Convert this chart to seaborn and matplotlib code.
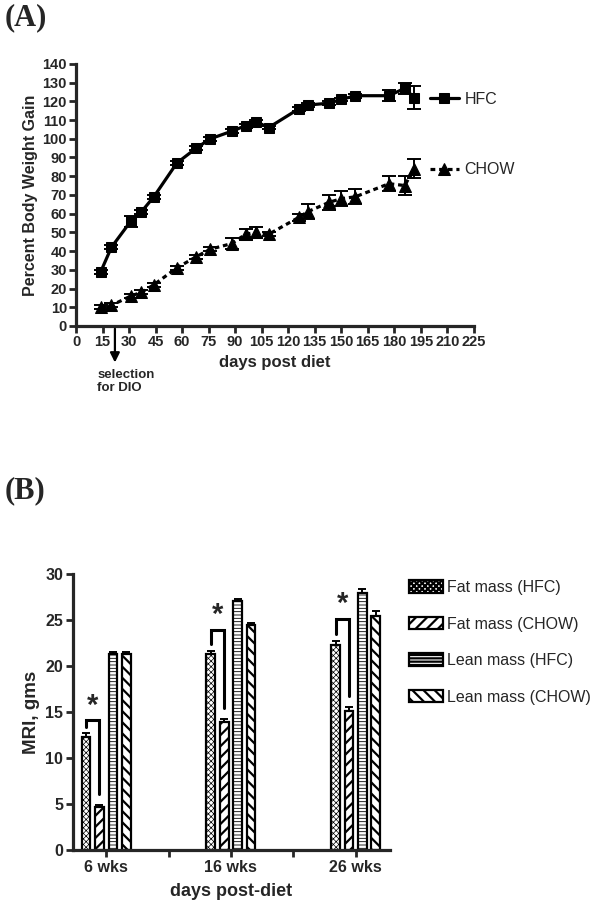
import numpy as np
import pandas as pd
import matplotlib
matplotlib.use('Agg')
import matplotlib.pyplot as plt
import seaborn as sns

sns.set_style('ticks')
plt.rcParams['font.family'] = ['Liberation Sans', 'DejaVu Sans']
plt.rcParams['hatch.linewidth'] = 1.6

# (A) percent body weight gain
days = [14, 20, 31, 37, 44, 57, 68, 76, 88, 96, 102, 109, 126, 131, 143, 150, 158, 177, 186, 191]
hfc = [29, 42, 56, 61, 69, 87, 95, 100, 104, 107, 109, 106, 116, 118, 119, 121, 123, 123, 127, 122]
hfc_err = [1, 1, 3, 1, 1, 1, 1, 1, 1, 1, 1, 1, 1, 1, 1, 1, 1, 3, 3, 6]
chow = [10, 11, 16, 18, 22, 31, 37, 41, 44, 49, 50, 49, 58, 61, 66, 68, 69, 76, 75, 84]
chow_err = [1, 1, 1, 1, 1, 1, 1, 1, 3, 3, 3, 1, 2, 4, 4, 4, 4, 4, 5, 5]
selection_day = 22

# (B) MRI body composition
weeks = ['6 wks', '16 wks', '26 wks']
groups = ['Fat mass (HFC)', 'Fat mass (CHOW)', 'Lean mass (HFC)', 'Lean mass (CHOW)']
fat_hfc = [12.3, 21.3, 22.3]
fat_chow = [4.7, 13.9, 15.1]
lean_hfc = [21.3, 27.1, 28.0]
lean_chow = [21.3, 24.5, 25.5]
fat_hfc_err = [0.4, 0.4, 0.45]
fat_chow_err = [0.2, 0.4, 0.5]
lean_hfc_err = [0.2, 0.2, 0.4]
lean_chow_err = [0.2, 0.2, 0.5]
bracket_top = [14.1, 23.9, 25.1]

fig = plt.figure(figsize=(6, 9.1), dpi=100)

# ---------- panel A ----------
axA = fig.add_axes([0.1267, 0.6418, 0.663, 0.288])
dfA = pd.DataFrame({'day': days * 2, 'gain': hfc + chow,
                    'diet': ['HFC'] * len(days) + ['CHOW'] * len(days)})

sns.lineplot(data=dfA[dfA.diet == 'HFC'], x='day', y='gain', color='black',
             marker='s', markersize=7.5, linewidth=2.3, ax=axA)
line_hfc = axA.lines[-1]
sns.lineplot(data=dfA[dfA.diet == 'CHOW'], x='day', y='gain', color='black',
             marker='^', markersize=9, linewidth=2.3, ax=axA)
line_chow = axA.lines[-1]
line_chow.set_dashes((1.5, 1.2))
for ln in (line_hfc, line_chow):
    ln.set_markeredgecolor('black')

axA.errorbar(days, hfc, yerr=hfc_err, fmt='none', ecolor='black', elinewidth=1.4, capsize=5, capthick=1.4)
axA.errorbar(days, chow, yerr=chow_err, fmt='none', ecolor='black', elinewidth=1.4, capsize=5, capthick=1.4)

axA.set_xlim(0, 225)
axA.set_ylim(0, 140)
axA.set_xticks(np.arange(0, 226, 15))
axA.set_yticks(np.arange(0, 141, 10))
axA.set_xlabel('days post diet', fontsize=12, fontweight='bold', labelpad=4)
axA.set_ylabel('Percent Body Weight Gain', fontsize=11.5, fontweight='bold', labelpad=3)
axA.tick_params(labelsize=10.5, width=2, length=5, pad=1.5)
for lab in axA.get_xticklabels() + axA.get_yticklabels():
    lab.set_fontweight('bold')
sns.despine(ax=axA)
for s in ('left', 'bottom'):
    axA.spines[s].set_linewidth(2.3)

axA.annotate('', xy=(selection_day, -21), xytext=(selection_day, 0), xycoords='data',
             arrowprops=dict(arrowstyle='-|>', color='black', lw=1.6, mutation_scale=14),
             annotation_clip=False)
axA.text(12, -23, 'selection\nfor DIO', fontsize=9.5, fontweight='bold', ha='left', va='top',
         linespacing=1.1, clip_on=False)

legA1 = axA.legend([line_hfc], ['HFC'], loc='center left', bbox_to_anchor=(430 / 600, 1 - 99 / 910),
                   bbox_transform=fig.transFigure, frameon=False, fontsize=11.5,
                   handlelength=1.8, handletextpad=0.35, borderpad=0, borderaxespad=0)
axA.add_artist(legA1)
axA.legend([line_chow], ['CHOW'], loc='center left', bbox_to_anchor=(430 / 600, 1 - 170 / 910),
           bbox_transform=fig.transFigure, frameon=False, fontsize=11.5,
           handlelength=1.8, handletextpad=0.35, borderpad=0, borderaxespad=0)

# ---------- panel B ----------
axB = fig.add_axes([0.1217, 0.0659, 0.528, 0.3031])
dfB = pd.DataFrame({'week': weeks * 4,
                    'mass': fat_hfc + fat_chow + lean_hfc + lean_chow,
                    'group': [g for g in groups for _ in weeks]})
sns.barplot(data=dfB, x='week', y='mass', hue='group', hue_order=groups, order=weeks,
            palette=['white'] * 4, width=0.43, gap=0.35, errorbar=None,
            edgecolor='black', linewidth=1.6, legend=False, ax=axB)

# hatch pattern, hatch line width, hatch colour per group
hatch_styles = [('xxxxxx', 0.5, '0.4'), ('///', 1.6, 'black'),
                ('-----', 0.6, '0.3'), ('\\\\\\', 1.6, 'black')]
errs = [fat_hfc_err, fat_chow_err, lean_hfc_err, lean_chow_err]
vals = [fat_hfc, fat_chow, lean_hfc, lean_chow]
centers = []
for cont, (h, hlw, hcol), e, v in zip(axB.containers, hatch_styles, errs, vals):
    xs = []
    for p in cont.patches:
        p.set_hatch(h)
        if hasattr(p, 'set_hatch_linewidth'):
            p.set_hatch_linewidth(hlw)
        if hasattr(p, 'set_hatchcolor'):
            p.set_hatchcolor(hcol)
        xs.append(p.get_x() + p.get_width() / 2)
    centers.append(xs)
    axB.errorbar(xs, v, yerr=[np.zeros(len(e)), e], fmt='none', ecolor='black',
                 elinewidth=1.4, capsize=3, capthick=1.4)

for i in range(len(weeks)):
    xl, xr = centers[0][i], centers[1][i]
    yl = fat_hfc[i] + fat_hfc_err[i] + 0.7
    yr = fat_chow[i] + fat_chow_err[i] + 1.2
    yt = bracket_top[i]
    axB.plot([xl, xl, xr, xr], [yl, yt, yt, yr], color='black', lw=2.2, solid_joinstyle='miter')
    axB.text((xl + xr) / 2, yt + 0.1, '*', ha='center', va='bottom', fontsize=21, fontweight='bold')

axB.set_xlim(-0.266, 2.274)
axB.set_ylim(0, 30)
axB.set_yticks(np.arange(0, 31, 5))
axB.set_xticks([0, 0.5, 1, 1.5, 2])
axB.set_xticklabels(['6 wks', '', '16 wks', '', '26 wks'])
axB.set_xlabel('days post-diet', fontsize=13, fontweight='bold', labelpad=6)
axB.set_ylabel('MRI, gms', fontsize=13.5, fontweight='bold', labelpad=4)
axB.tick_params(labelsize=11.5, width=2, length=5, pad=2)
for lab in axB.get_xticklabels() + axB.get_yticklabels():
    lab.set_fontweight('bold')
sns.despine(ax=axB)
for s in ('left', 'bottom'):
    axB.spines[s].set_linewidth(2.3)

axB.legend(axB.containers, groups, loc='upper left', bbox_to_anchor=(409 / 600, 1 - 580 / 910),
           bbox_transform=fig.transFigure, frameon=False, fontsize=11.5,
           handlelength=2.1, handleheight=0.8, handletextpad=0.3, labelspacing=1.35,
           borderpad=0, borderaxespad=0)

# panel letters
fig.text(0.008, 0.997, '(A)', fontsize=22, fontweight='bold', family='Liberation Serif', va='top')
fig.text(0.008, 0.477, '(B)', fontsize=22, fontweight='bold', family='Liberation Serif', va='top')

fig.savefig('out.png', dpi=100, facecolor='white')
